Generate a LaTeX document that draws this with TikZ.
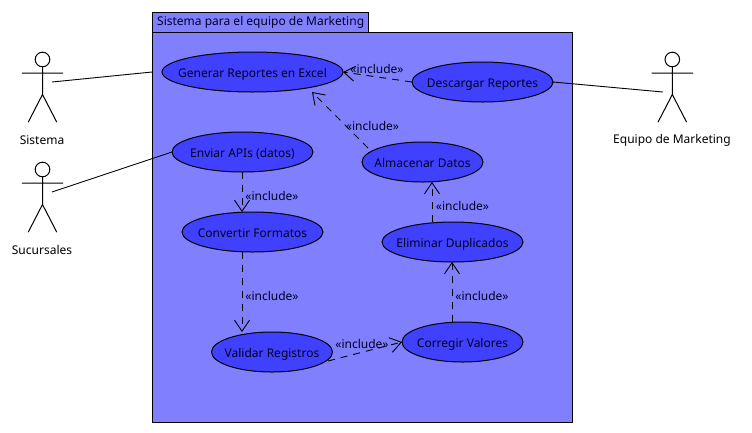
\documentclass[tikz,border=0pt]{standalone}
\usepackage{fontspec}
\setmainfont{Noto Sans}
\usetikzlibrary{arrows.meta,shapes.geometric}
\definecolor{boxfill}{HTML}{8080FF}
\definecolor{ucfill}{HTML}{4040FF}
\newcommand{\uctext}[1]{\raisebox{-5.6pt}[0pt][0pt]{\makebox[0pt]{#1}}}
\tikzset{
  uc/.style={ellipse,draw=black,fill=ucfill,line width=1pt,inner sep=0pt,outer sep=0pt,minimum height=40pt,text=black!85!blue,font=\fontsize{12}{14}\selectfont},
  sysbox/.style={draw=black,fill=boxfill,line width=1pt},
  lbl/.style={inner sep=0pt,font=\fontsize{12}{14}\selectfont},
  inclabel/.style={inner sep=0pt,font=\fontsize{12}{14}\selectfont,text=black!85!blue},
  assoc/.style={draw=black,line width=.9pt},
  inc/.style={draw=black,line width=.9pt,dash pattern=on 7pt off 6pt,-{Straight Barb[length=11pt,width=15pt,line width=.9pt]}},
  actor/.pic={
    \node[circle,draw=black,line width=1pt,minimum size=14.6pt,inner sep=0pt] at (0,0) {};
    \draw[line width=1pt] (0,7.3) -- (0,35) (-20.7,13.7) -- (20.7,13.7) (-14.3,62.7) -- (0,35) -- (14.3,62.7);
  }
}
\begin{document}
\begin{tikzpicture}[x=1pt,y=-1pt]
\useasboundingbox (0,0) rectangle (752,432);
\path[fill=white] (0,0) rectangle (752,432);
% system boundary
\node[sysbox,anchor=north west,minimum width=216pt,minimum height=20pt,inner sep=0pt] (tab) at (152,12) {};
\node[lbl,anchor=west,text=black!85!blue] (tabtext) at (157,22.5) {Sistema para el equipo de Marketing};
\node[sysbox,anchor=north west,minimum width=420pt,minimum height=390pt,inner sep=0pt] (sys) at (152,32) {};
% use cases
\node[uc,minimum width=181pt] (gen) at (252.5,72) {\uctext{Generar Reportes en Excel}};
\node[uc,minimum width=141pt] (desc) at (482.5,82) {\uctext{Descargar Reportes}};
\node[uc,minimum width=141pt] (env) at (242.5,152) {\uctext{Enviar APIs (datos)}};
\node[uc,minimum width=121pt] (alm) at (422.5,162) {\uctext{Almacenar Datos}};
\node[uc,minimum width=141pt] (conv) at (252.5,232) {\uctext{Convertir Formatos}};
\node[uc,minimum width=141pt] (elim) at (452.5,242) {\uctext{Eliminar Duplicados}};
\node[uc,minimum width=121pt] (corr) at (462.5,342) {\uctext{Corregir Valores}};
\node[uc,minimum width=121pt] (val) at (272,352) {\uctext{Validar Registros}};
% actors
\pic at (42.5,59.5) {actor};
\pic at (42.5,169.5) {actor};
\pic at (672.3,59.5) {actor};
\node[lbl] (a1) at (42,140) {Sistema};
\node[lbl] (a2) at (42,250) {Sucursales};
\node[lbl] (a3) at (672,140) {Equipo de Marketing};
\coordinate (p1) at (52,82);
\coordinate (p1e) at (152,72);
\coordinate (p2) at (52,192);
\coordinate (p3) at (663,92);
% associations
\draw[assoc] (p1) -- (p1e);
\draw[assoc] (p2) -- (env.west);
\draw[assoc] (desc.east) -- (p3);
% includes
\coordinate (g1) at (312,92);
\coordinate (a0) at (368,148);
\coordinate (e0) at (242,172);
\coordinate (c1) at (242,212);
\coordinate (c0) at (242,252);
\coordinate (v1) at (242,332);
\coordinate (v0) at (328,361);
\coordinate (el0) at (432,222);
\coordinate (al1) at (432,182);
\coordinate (co0) at (452,322);
\coordinate (el1) at (452,262);
\draw[inc] (desc.west) -- (gen.east);
\draw[inc] (a0) -- (g1);
\draw[inc] (e0) -- (c1);
\draw[inc] (c0) -- (v1);
\draw[inc] (v0) -- (corr.west);
\draw[inc] (co0) -- (el1);
\draw[inc] (el0) -- (al1);
% labels
\node[inclabel] (l1) at (377,69) {«include»};
\node[inclabel] (l2) at (372.5,126) {«include»};
\node[inclabel] (l3) at (272,196) {«include»};
\node[inclabel] (l4) at (272,296) {«include»};
\node[inclabel] (l5) at (362,344) {«include»};
\node[inclabel] (l6) at (482,296) {«include»};
\node[inclabel] (l7) at (462.5,206) {«include»};
\end{tikzpicture}
\end{document}
